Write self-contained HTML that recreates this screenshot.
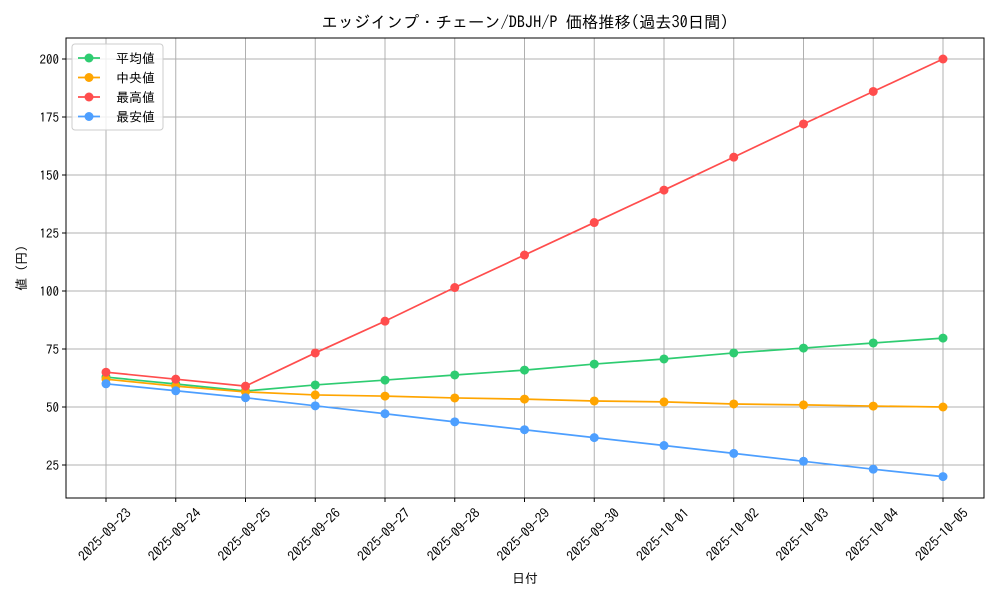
<!DOCTYPE html>
<html><head><meta charset="utf-8"><style>
body{margin:0;background:#fff}
svg text{font-family:"IPAGothic","Liberation Sans","Noto Sans CJK JP",sans-serif;fill:#000}
</style></head><body>
<svg id="chart" width="1000" height="600" xmlns="http://www.w3.org/2000/svg">
<rect width="1000" height="600" fill="#fff"/>
<text x="525" y="28" font-size="16.3" text-anchor="middle">エッジインプ・チェーン/DBJH/P 価格推移(過去30日間)</text>
<g id="grid"></g>
<rect x="66" y="38" width="918" height="460" fill="none" stroke="#000" stroke-width="1"/>
<g id="xticks"></g><g id="yticks"></g><g id="series"></g>
<text x="525" y="583" font-size="13" text-anchor="middle">日付</text>
<text transform="translate(26,268) rotate(-90)" font-size="13" text-anchor="middle">値 (円)</text>
<g id="legend"></g>
</svg>
<script>
const categories=["2025-09-23","2025-09-24","2025-09-25","2025-09-26","2025-09-27","2025-09-28","2025-09-29","2025-09-30","2025-10-01","2025-10-02","2025-10-03","2025-10-04","2025-10-05"];
const avgValues=[62.9,59.9,56.9,59.5,61.6,63.8,65.9,68.5,70.7,73.3,75.4,77.6,79.7];
const medianValues=[62,59,56.5,55.2,54.7,53.9,53.4,52.6,52.2,51.3,50.9,50.4,50];
const maxValues=[65,62,59,73.3,87,101.5,115.5,129.5,143.5,157.7,172,186,200];
const minValues=[60,57,54,50.5,47.1,43.6,40.2,36.8,33.4,30,26.6,23.2,20];
const yTicks=[25,50,75,100,125,150,175,200];
const seriesNames=["平均値","中央値","最高値","最安値"];
const NS="http://www.w3.org/2000/svg";
const xS=i=>106+i*(943-106)/(categories.length-1);
const yS=v=>523-v*(523-59)/200;
function mk(t,a,p){const e=document.createElementNS(NS,t);for(const k in a)e.setAttribute(k,a[k]);p.appendChild(e);return e;}
const grid=document.getElementById('grid'),xt=document.getElementById('xticks'),yt=document.getElementById('yticks');
categories.forEach((c,i)=>{const x=xS(i);
 const g=mk('line',{x1:x,x2:x,y1:38,y2:498,stroke:'#b0b0b0','stroke-width':1},grid);
 
 
 mk('line',{x1:x,x2:x,y1:498,y2:502,stroke:'#000'},xt);
 const ax=x+26,ay=514;
 const t=mk('text',{x:ax,y:ay,'font-size':13.5,'text-anchor':'end',transform:`rotate(-45 ${ax} ${ay})`},xt);t.textContent=c;
 
 
});
yTicks.forEach(v=>{const y=yS(v);
 const g=mk('line',{x1:66,x2:984,y1:y,y2:y,stroke:'#b0b0b0','stroke-width':1},grid);
 
 
 mk('line',{x1:62,x2:66,y1:y,y2:y,stroke:'#000'},yt);
 const t=mk('text',{x:59,y:y+5,'font-size':13,'text-anchor':'end'},yt);t.textContent=v;
 
 
});
const data=[avgValues,medianValues,maxValues,minValues];
const colors=["#2ecc71","#ffa500","#ff4d4d","#4d9fff"];
const names=["series-average","series-median","series-max","series-min"];
const sg=document.getElementById('series');
data.forEach((d,s)=>{
 const g=mk('g',{},sg);
 
 
 const p=mk('polyline',{points:d.map((v,i)=>xS(i)+','+yS(v)).join(' '),fill:'none',stroke:colors[s],'stroke-width':1.7},g);
 
 
 d.forEach((v,i)=>{const c=mk('circle',{cx:xS(i),cy:yS(v),r:4.5,fill:colors[s]},g);
  
  });
});
const lg=document.getElementById('legend');
const box=mk('rect',{x:72,y:44,width:91,height:86,rx:3,fill:'#fff','fill-opacity':0.8,stroke:'#ccc'},lg);


seriesNames.forEach((n,i)=>{const y=58+i*19.5;
 const e=mk('g',{},lg);
 
 
 mk('line',{x1:78,x2:100,y1:y,y2:y,stroke:colors[i],'stroke-width':1.7},e);
 mk('circle',{cx:89,cy:y,r:4.5,fill:colors[i]},e);
 const t=mk('text',{x:116,y:y+5,'font-size':13},e);t.textContent=n;
});
</script>
</body></html>
